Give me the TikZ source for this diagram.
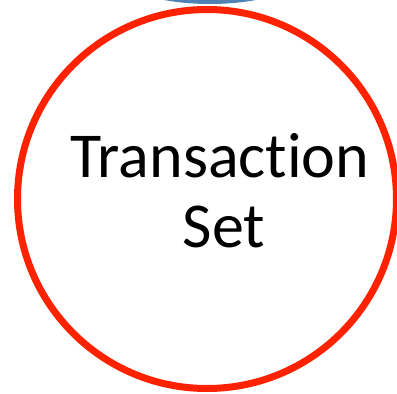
\documentclass[tikz,border=0pt]{standalone}
\usepackage{fontspec}
\setmainfont[Ligatures={NoCommon}]{Carlito}
\definecolor{setred}{RGB}{255,34,0}
\definecolor{topblue}{RGB}{80,130,180}

\begin{document}
\begin{tikzpicture}[x=1pt,y=-1pt,
    setlabel/.style={anchor=base, inner sep=0pt, font=\fontsize{64}{70}\selectfont}]
    \useasboundingbox (0,0) rectangle (397,394);
    \clip (0,0) rectangle (397,394);
    % shape above, cut off by the top edge
    \fill[topblue] (210,-32) ellipse [x radius=100, y radius=36];
    % transaction set
    \draw[setred, line width=7pt, fill=white] (207,199) circle [radius=189.5];
    \node[setlabel] (trans) at (220,177) {Transaction};
    \node[setlabel] (set) at (224,247) {Set};
\end{tikzpicture}
\end{document}
